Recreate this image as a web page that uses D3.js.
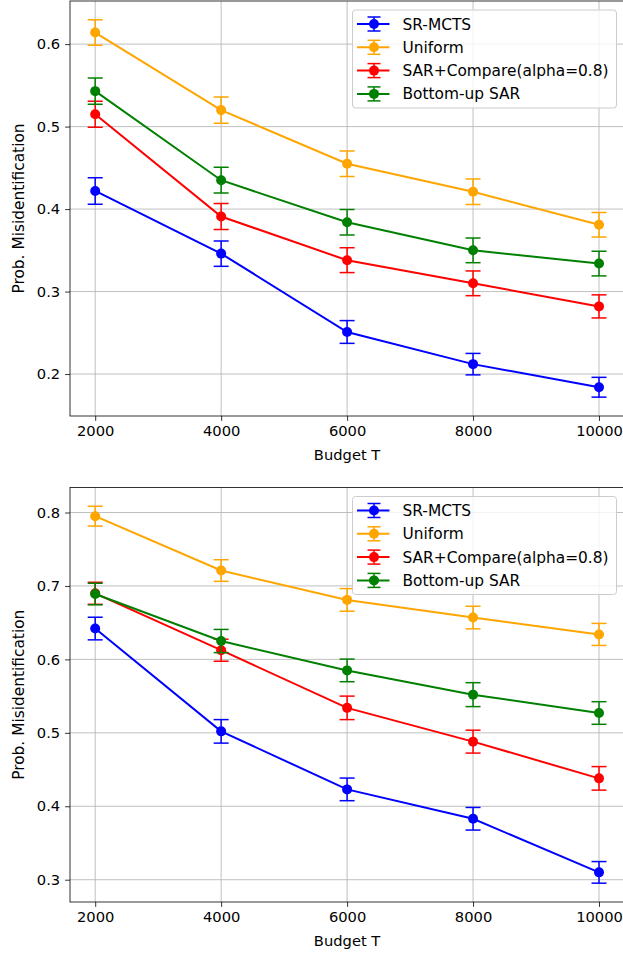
<!DOCTYPE html>
<html>
<head>
<meta charset="utf-8">
<script src="https://cdn.jsdelivr.net/npm/d3@7"></script>
<style>
  html, body { margin: 0; padding: 0; background: #ffffff; }
  svg { display: block; font-family: "DejaVu Sans", sans-serif; }
</style>
</head>
<body>
<svg id="chart" width="623" height="955"></svg>
<script>
// ---------------- data ----------------
const budgets = [2000, 4000, 6000, 8000, 10000];
const xTickLabels = ["2000", "4000", "6000", "8000", "10000"];
const seriesNames = ["SR-MCTS", "Uniform", "SAR+Compare(alpha=0.8)", "Bottom-up SAR"];
const seriesColors = ["#0000ff", "#ffa500", "#ff0000", "#008000"];

// Panel 1 (top)
const top_srmcts   = [0.422, 0.346, 0.251, 0.212, 0.184];
const top_srmctsErr  = [0.016, 0.0154, 0.0138, 0.013, 0.012];
const top_uniform  = [0.614, 0.520, 0.455, 0.421, 0.381];
const top_uniformErr = [0.0154, 0.0158, 0.0154, 0.0154, 0.0148];
const top_sar      = [0.515, 0.391, 0.338, 0.310, 0.282];
const top_sarErr     = [0.0158, 0.0158, 0.015, 0.015, 0.014];
const top_bottomup = [0.543, 0.435, 0.384, 0.350, 0.334];
const top_bottomupErr= [0.016, 0.0156, 0.0154, 0.015, 0.015];
const topYTicks = [0.2, 0.3, 0.4, 0.5, 0.6];

// Panel 2 (bottom)
const bot_srmcts   = [0.642, 0.502, 0.423, 0.383, 0.310];
const bot_srmctsErr  = [0.0154, 0.016, 0.0154, 0.0154, 0.0147];
const bot_uniform  = [0.795, 0.721, 0.681, 0.657, 0.634];
const bot_uniformErr = [0.0134, 0.0147, 0.0154, 0.0154, 0.015];
const bot_sar      = [0.690, 0.6125, 0.534, 0.488, 0.438];
const bot_sarErr     = [0.015, 0.015, 0.016, 0.0156, 0.016];
const bot_bottomup = [0.689, 0.625, 0.585, 0.552, 0.527];
const bot_bottomupErr= [0.0147, 0.0158, 0.0154, 0.0163, 0.0154];
const botYTicks = [0.3, 0.4, 0.5, 0.6, 0.7, 0.8];

const xLabel = "Budget T";
const yLabel = "Prob. Misidentification";

// ---------------- drawing ----------------
const svg = d3.select("#chart");
const FONT = 14.7;
const LFONT = 15.4;

function drawPanel(cfg) {
  const { top, bottom, left, right, values, errs, yTicks } = cfg;
  const g = svg.append("g");

  // domains like matplotlib autoscale with 5% margins
  const xMin = d3.min(budgets), xMax = d3.max(budgets);
  const xm = (xMax - xMin) * 0.05;
  const x = d3.scaleLinear().domain([xMin - xm, xMax + xm]).range([left, right]);

  let lo = Infinity, hi = -Infinity;
  values.forEach((vs, i) => vs.forEach((v, j) => {
    lo = Math.min(lo, v - errs[i][j]);
    hi = Math.max(hi, v + errs[i][j]);
  }));
  const ym = (hi - lo) * 0.05;
  const y = d3.scaleLinear().domain([lo - ym, hi + ym]).range([bottom, top]);

  // clip for plot area
  const clipId = "clip" + Math.round(top);
  svg.append("clipPath").attr("id", clipId)
    .append("rect").attr("x", left).attr("y", top)
    .attr("width", right - left).attr("height", bottom - top);

  // grid
  const grid = g.append("g").attr("clip-path", `url(#${clipId})`);
  grid.selectAll(null).data(budgets).enter().append("line")
    .attr("x1", d => x(d)).attr("x2", d => x(d))
    .attr("y1", top).attr("y2", bottom)
    .attr("stroke", "#b0b0b0").attr("stroke-width", 0.8);
  grid.selectAll(null).data(yTicks).enter().append("line")
    .attr("x1", left).attr("x2", right)
    .attr("y1", d => y(d)).attr("y2", d => y(d))
    .attr("stroke", "#b0b0b0").attr("stroke-width", 0.8);

  // axes
  const xAxis = d3.axisBottom(x).tickValues(budgets)
    .tickFormat((d, i) => xTickLabels[i]).tickSize(4.9).tickPadding(4.9);
  const gx = g.append("g").attr("transform", `translate(0,${bottom})`).call(xAxis);
  const yAxis = d3.axisLeft(y).tickValues(yTicks)
    .tickFormat(d3.format(".1f")).tickSize(4.9).tickPadding(4.9);
  const gy = g.append("g").attr("transform", `translate(${left},0)`).call(yAxis);
  [gx, gy].forEach(a => {
    a.select(".domain").remove();
    a.selectAll(".tick line").attr("stroke", "#000").attr("stroke-width", 0.8);
    a.selectAll(".tick text").attr("fill", "#000")
      .style("font-family", "DejaVu Sans").style("font-size", FONT + "px");
  });

  // series
  const plot = g.append("g").attr("clip-path", `url(#${clipId})`);
  const line = d3.line().x(d => x(d.x)).y(d => y(d.y));
  values.forEach((vs, i) => {
    const color = seriesColors[i];
    const pts = vs.map((v, j) => ({ x: budgets[j], y: v, e: errs[i][j] }));
    const s = plot.append("g");
    // error bars
    s.selectAll(null).data(pts).enter().append("line")
      .attr("x1", d => x(d.x)).attr("x2", d => x(d.x))
      .attr("y1", d => y(d.y - d.e)).attr("y2", d => y(d.y + d.e))
      .attr("stroke", color).attr("stroke-width", 1.5);
    [-1, 1].forEach(sign => {
      s.selectAll(null).data(pts).enter().append("line")
        .attr("x1", d => x(d.x) - 7.5).attr("x2", d => x(d.x) + 7.5)
        .attr("y1", d => y(d.y + sign * d.e))
        .attr("y2", d => y(d.y + sign * d.e))
        .attr("stroke", color).attr("stroke-width", 1.5);
    });
    s.append("path").datum(pts).attr("d", line)
      .attr("fill", "none").attr("stroke", color).attr("stroke-width", 2);
    s.selectAll(null).data(pts).enter().append("circle")
      .attr("cx", d => x(d.x)).attr("cy", d => y(d.y)).attr("r", 5)
      .attr("fill", color);
  });

  // spines (left, bottom, top; right falls off canvas)
  g.append("rect").attr("x", left).attr("y", top)
    .attr("width", right - left).attr("height", bottom - top)
    .attr("fill", "none").attr("stroke", "#000").attr("stroke-width", 0.8);

  // axis labels
  g.append("text").attr("x", (left + right) / 2).attr("y", bottom + 44)
    .attr("text-anchor", "middle").style("font-size", FONT + "px").text(xLabel);
  g.append("text")
    .attr("transform", `translate(24,${(top + bottom) / 2}) rotate(-90)`)
    .attr("text-anchor", "middle").style("font-size", LFONT + "px").text(yLabel);

  // legend
  const lx = 352.5, ly = top + 9, lw = 264, lh = 98;
  const lg = g.append("g");
  lg.append("rect").attr("x", lx).attr("y", ly).attr("width", lw).attr("height", lh)
    .attr("rx", 3).attr("fill", "#ffffff").attr("fill-opacity", 0.8)
    .attr("stroke", "#cccccc").attr("stroke-width", 1);
  seriesNames.forEach((name, i) => {
    const cy = ly + 14 + i * 23.3;
    const c = seriesColors[i];
    lg.append("line").attr("x1", lx + 4.5).attr("x2", lx + 37).attr("y1", cy).attr("y2", cy)
      .attr("stroke", c).attr("stroke-width", 2);
    lg.append("line").attr("x1", lx + 21.5).attr("x2", lx + 21.5).attr("y1", cy - 7).attr("y2", cy + 7)
      .attr("stroke", c).attr("stroke-width", 1.5);
    [-7, 7].forEach(o => lg.append("line").attr("x1", lx + 15).attr("x2", lx + 28)
      .attr("y1", cy + o).attr("y2", cy + o).attr("stroke", c).attr("stroke-width", 1.5));
    lg.append("circle").attr("cx", lx + 21.5).attr("cy", cy).attr("r", 5).attr("fill", c);
    lg.append("text").attr("x", lx + 50).attr("y", cy + 5.5)
      .style("font-size", LFONT + "px").attr("fill", "#000").text(name);
  });
}

drawPanel({
  top: 1, bottom: 416, left: 70, right: 624.2,
  values: [top_srmcts, top_uniform, top_sar, top_bottomup],
  errs: [top_srmctsErr, top_uniformErr, top_sarErr, top_bottomupErr],
  yTicks: topYTicks
});
drawPanel({
  top: 487.5, bottom: 902, left: 70, right: 624.2,
  values: [bot_srmcts, bot_uniform, bot_sar, bot_bottomup],
  errs: [bot_srmctsErr, bot_uniformErr, bot_sarErr, bot_bottomupErr],
  yTicks: botYTicks
});
</script>
</body>
</html>
